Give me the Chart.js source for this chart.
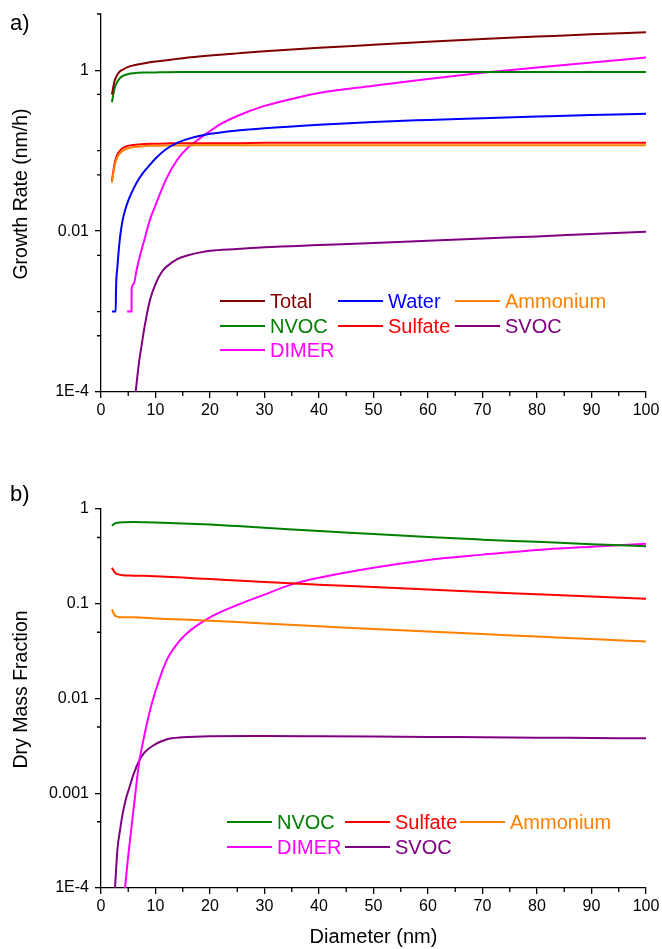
<!DOCTYPE html>
<html>
<head>
<meta charset="utf-8">
<script src="https://cdn.jsdelivr.net/npm/chart.js@4.4.0/dist/chart.umd.min.js"></script>
<style>
  body { margin: 0; background: #fff; font-family: 'Liberation Sans', Arial, sans-serif; }
  #page { position: relative; width: 662px; height: 949px; }
  canvas { position: absolute; left: 0; }
  .tag { position: absolute; left: 10px; font-size: 22px; line-height: 22px; color: #000; }
  .leg { position: absolute; height: 20px; font-size: 20px; line-height: 20px; white-space: nowrap; }
  .leg .sw { position: absolute; left: 0; top: 9px; width: 45px; height: 2px; }
  .leg .tx { position: absolute; left: 50px; top: 0; }
</style>
</head>
<body>
<div id="page">
  <canvas id="chartA" width="662" height="440" style="top:0"></canvas>
  <canvas id="chartB" width="662" height="509" style="top:440px"></canvas>
  <div class="tag" style="top:12px">a)</div>
  <div class="tag" style="top:483px">b)</div>
</div>
<script>
// ---- panel a: growth rate (nm/h) ----
const dA = [2, 2.5, 3, 3.5, 4, 5, 6, 8, 10, 12, 15, 20, 25, 30, 40, 50, 60, 70, 80, 90, 100];
const totalA = [0.5, 0.74, 0.88, 0.97, 1.02, 1.1, 1.15, 1.22, 1.28, 1.33, 1.41, 1.52, 1.62, 1.72, 1.9, 2.07, 2.26, 2.45, 2.62, 2.8, 2.97];
const nvocA = [0.4, 0.6, 0.72, 0.8, 0.85, 0.9, 0.92, 0.935, 0.94, 0.945, 0.948, 0.95, 0.95, 0.95, 0.95, 0.95, 0.95, 0.95, 0.95, 0.95, 0.95];
const sulfateA = [0.042, 0.07, 0.09, 0.1, 0.108, 0.115, 0.118, 0.121, 0.122, 0.123, 0.124, 0.124, 0.124, 0.125, 0.125, 0.125, 0.125, 0.125, 0.125, 0.125, 0.125];
const ammoniumA = [0.04, 0.065, 0.083, 0.093, 0.1, 0.107, 0.111, 0.114, 0.115, 0.116, 0.116, 0.117, 0.117, 0.117, 0.117, 0.117, 0.117, 0.117, 0.117, 0.117, 0.117];

const waterX = [2, 2.7, 2.75, 3, 3.5, 4, 4.5, 5, 6, 7, 8, 9, 10, 12, 14, 16, 18, 20, 25, 30, 40, 50, 60, 70, 80, 90, 100];
const waterA = [0.001, 0.001, 0.0018, 0.0035, 0.0085, 0.014, 0.019, 0.024, 0.034, 0.045, 0.056, 0.067, 0.08, 0.105, 0.125, 0.14, 0.152, 0.162, 0.178, 0.19, 0.21, 0.228, 0.241, 0.253, 0.265, 0.277, 0.287];

const dimerX = [4.8, 5.6, 5.62, 6, 6.5, 7, 8, 9, 10, 12, 14, 16, 18, 20, 22, 25, 30, 35, 40, 50, 60, 70, 80, 90, 100];
const dimerA = [0.001, 0.001, 0.0019, 0.0022, 0.0032, 0.0045, 0.008, 0.014, 0.021, 0.045, 0.077, 0.11, 0.14, 0.175, 0.215, 0.27, 0.36, 0.44, 0.52, 0.64, 0.78, 0.93, 1.08, 1.25, 1.44];

const svocX = [6.35, 7, 7.5, 8, 9, 10, 11, 12, 14, 16, 18, 20, 25, 30, 40, 50, 60, 70, 80, 90, 100];
const svocA = [0.0001, 0.00024, 0.0004, 0.00065, 0.0014, 0.0022, 0.003, 0.0036, 0.0045, 0.005, 0.0054, 0.0057, 0.006, 0.0063, 0.0067, 0.0071, 0.0076, 0.0081, 0.0086, 0.0092, 0.0098];

const yTicksA = [1e-4, 1e-2, 1];
const yLabelsA = ['1E-4', '0.01', '1'];
const yMinorA = [5e-4, 1e-3, 5e-3, 5e-2, 0.1, 0.5, 5];

// ---- panel b: dry mass fraction ----
const dB = [2, 2.5, 3, 4, 6, 8, 10, 15, 20, 25, 30, 40, 50, 60, 70, 80, 90, 100];
const nvocB = [0.665, 0.7, 0.715, 0.725, 0.728, 0.725, 0.72, 0.705, 0.685, 0.66, 0.635, 0.585, 0.545, 0.505, 0.475, 0.45, 0.425, 0.405];
const sulfateB = [0.24, 0.215, 0.205, 0.2, 0.198, 0.197, 0.195, 0.189, 0.182, 0.176, 0.17, 0.159, 0.15, 0.141, 0.133, 0.126, 0.119, 0.113];
const ammoniumB = [0.087, 0.076, 0.073, 0.072, 0.072, 0.071, 0.07, 0.068, 0.066, 0.064, 0.062, 0.058, 0.054, 0.051, 0.048, 0.045, 0.0425, 0.04];

const dimerXB = [4.4, 5, 6, 7, 8, 9, 10, 12, 14, 16, 18, 20, 25, 30, 35, 40, 50, 60, 70, 80, 90, 100];
const dimerB = [0.0001, 0.00022, 0.0007, 0.0021, 0.0042, 0.0075, 0.012, 0.025, 0.038, 0.05, 0.061, 0.072, 0.097, 0.125, 0.16, 0.188, 0.24, 0.29, 0.33, 0.37, 0.4, 0.43];

const svocXB = [2.57, 3, 3.5, 4, 4.7, 5, 6, 7, 8, 10, 12, 15, 20, 30, 40, 50, 60, 70, 80, 90, 100];
const svocB = [0.0001, 0.00025, 0.00041, 0.00062, 0.00093, 0.00105, 0.0016, 0.0022, 0.0027, 0.0033, 0.0037, 0.0039, 0.004, 0.00402, 0.004, 0.00397, 0.00393, 0.0039, 0.00386, 0.00383, 0.0038];

const yTicksB = [1e-4, 1e-3, 1e-2, 0.1, 1];
const yLabelsB = ['1E-4', '0.001', '0.01', '0.1', '1'];
const yMinorB = [5e-4, 5e-3, 5e-2, 0.5];

const xMinor = [5, 15, 25, 35, 45, 55, 65, 75, 85, 95];

const colors = {
  Total: '#800000', Water: '#0000ff', Ammonium: '#ff8000', NVOC: '#008000',
  Sulfate: '#ff0000', SVOC: '#800080', DIMER: '#ff00ff'
};

const FONT = "'Liberation Sans', Arial, sans-serif";
Chart.defaults.font.family = FONT;
Chart.defaults.color = '#000';

function pts(xs, ys) {
  return xs.map((x, i) => ({ x: x, y: ys[i] }));
}

function line(label, xs, ys) {
  return {
    label: label,
    data: pts(xs, ys),
    borderColor: colors[label],
    backgroundColor: colors[label],
    borderWidth: 2,
    pointRadius: 0,
    cubicInterpolationMode: 'monotone',
    fill: false
  };
}

// short unlabeled ticks, placed through the scales
const minorTicks = {
  id: 'minorTicks',
  afterDraw(chart, args, opts) {
    const ctx = chart.ctx;
    const area = chart.chartArea;
    const sx = chart.scales.x, sy = chart.scales.y;
    ctx.save();
    ctx.strokeStyle = '#000';
    ctx.lineWidth = 1.3;
    ctx.beginPath();
    opts.x.forEach(v => {
      const px = sx.getPixelForValue(v);
      ctx.moveTo(px, area.bottom);
      ctx.lineTo(px, area.bottom + 4);
    });
    opts.y.forEach(v => {
      const py = sy.getPixelForValue(v);
      ctx.moveTo(area.left, py);
      ctx.lineTo(area.left - 4, py);
    });
    ctx.stroke();
    ctx.restore();
  }
};

// y title, drawn a bit above the plot centre like the original
const sideTitle = {
  id: 'sideTitle',
  afterDraw(chart, args, o) {
    const ctx = chart.ctx, a = chart.chartArea;
    ctx.save();
    ctx.translate(o.x, (a.top + a.bottom) / 2 - o.shift);
    ctx.rotate(-Math.PI / 2);
    ctx.font = '19.5px ' + FONT;
    ctx.textAlign = 'center';
    ctx.textBaseline = 'middle';
    ctx.fillStyle = '#000';
    ctx.fillText(o.text, 0, 0);
    ctx.restore();
  }
};

function makeChart(id, datasets, o) {
  return new Chart(document.getElementById(id), {
    type: 'line',
    data: { datasets: datasets },
    plugins: [minorTicks, sideTitle],
    options: {
      responsive: false,
      animation: false,
      layout: { padding: { top: o.top, right: 16, left: 0, bottom: 0 } },
      plugins: {
        legend: { display: false },
        tooltip: { enabled: false },
        minorTicks: { x: xMinor, y: o.minor },
        sideTitle: { text: o.yTitle, x: 22, shift: 9 }
      },
      scales: {
        x: {
          type: 'linear',
          min: 0, max: 100,
          afterFit: s => { s.height = o.xh; s.paddingLeft = 0; s.paddingRight = 0; },
          ticks: { stepSize: 10, maxRotation: 0, padding: 3, font: { size: 16 } },
          grid: { drawOnChartArea: false, drawTicks: true, tickLength: 6, color: '#000', lineWidth: 1.3 },
          border: { display: true, color: '#000', width: 1.3 },
          title: {
            display: !!o.xTitle, text: o.xTitle || '',
            font: { size: 20 }, padding: { top: 0, bottom: 0 }
          }
        },
        y: {
          type: 'logarithmic',
          min: 1e-4, max: o.max,
          afterFit: s => { s.width = 101; s.paddingTop = 0; s.paddingBottom = 0; },
          afterBuildTicks: s => { s.ticks = o.ticks.map(v => ({ value: v })); },
          ticks: {
            padding: 6, font: { size: 16 },
            callback: (v, i) => o.labels[i]
          },
          grid: { drawOnChartArea: false, drawTicks: true, tickLength: 6, color: '#000', lineWidth: 1.3 },
          border: { display: true, color: '#000', width: 1.3 },
          title: { display: false }
        }
      }
    }
  });
}

makeChart('chartA', [
  line('Total', dA, totalA),
  line('Water', waterX, waterA),
  line('Ammonium', dA, ammoniumA),
  line('NVOC', dA, nvocA),
  line('Sulfate', dA, sulfateA),
  line('SVOC', svocX, svocA),
  line('DIMER', dimerX, dimerA)
], { top: 14, xh: 48, max: 5, ticks: yTicksA, labels: yLabelsA, minor: yMinorA, yTitle: 'Growth Rate (nm/h)' });

makeChart('chartB', [
  line('NVOC', dB, nvocB),
  line('Sulfate', dB, sulfateB),
  line('Ammonium', dB, ammoniumB),
  line('DIMER', dimerXB, dimerB),
  line('SVOC', svocXB, svocB)
], { top: 69, xh: 61, max: 1, ticks: yTicksB, labels: yLabelsB, minor: yMinorB, yTitle: 'Dry Mass Fraction', xTitle: 'Diameter (nm)' });

// legends: rows of names laid out in a grid inside each plot
const legendA = [['Total', 'Water', 'Ammonium'], ['NVOC', 'Sulfate', 'SVOC'], ['DIMER']];
const legendB = [['NVOC', 'Sulfate', 'Ammonium'], ['DIMER', 'SVOC']];

function drawLegend(rows, colX, rowY) {
  const page = document.getElementById('page');
  rows.forEach((row, r) => {
    row.forEach((name, c) => {
      const d = document.createElement('div');
      d.className = 'leg';
      d.style.left = colX[c] + 'px';
      d.style.top = (rowY[r] - 10) + 'px';
      d.innerHTML = '<span class="sw" style="background:' + colors[name] + '"></span>' +
        '<span class="tx" style="color:' + colors[name] + '">' + name + '</span>';
      page.appendChild(d);
    });
  });
}

drawLegend(legendA, [220, 338, 455], [301, 325.5, 350]);
drawLegend(legendB, [227, 345, 460], [822, 846.5]);
</script>
</body>
</html>
